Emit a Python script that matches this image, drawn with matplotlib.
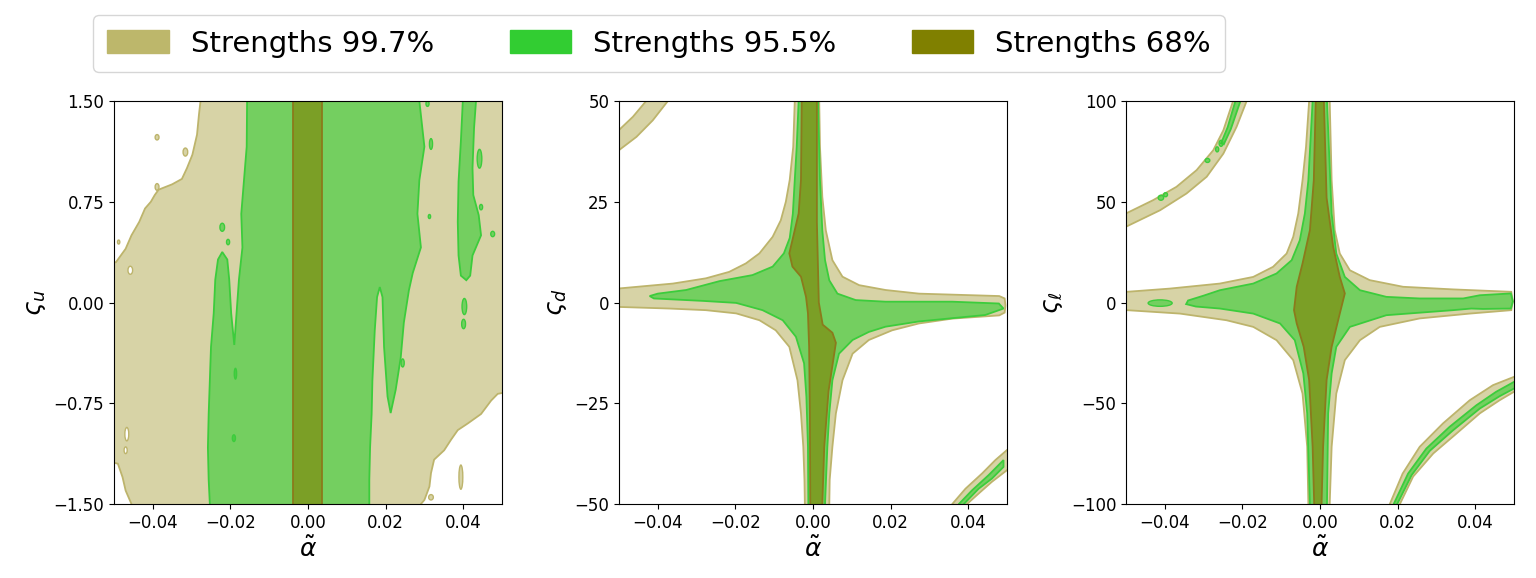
import numpy as np
import matplotlib
matplotlib.use("Agg")
import matplotlib.pyplot as plt
from matplotlib.patches import Polygon, Ellipse, Patch
from matplotlib.colors import to_rgba

# ---------------- data ----------------
levels = ["Strengths 99.7%", "Strengths 95.5%", "Strengths 68%"]
level_colors = ["#bdb76b", "#32cd32", "#808000"]

x_limits = (-0.05, 0.05)
y_limits = [(-1.5, 1.5), (-50, 50), (-100, 100)]
x_ticks = [-0.04, -0.02, 0.0, 0.02, 0.04]
y_ticks = [[-1.5, -0.75, 0.0, 0.75, 1.5], [-50, -25, 0, 25, 50], [-100, -50, 0, 50, 100]]
x_label = r"$\tilde{\alpha}$"
y_labels = [r"$\varsigma_u$", r"$\varsigma_d$", r"$\varsigma_\ell$"]

# Panel 1 (alpha~ vs zeta_u): region outlines (x, y)
p1_tan = [(-0.0277, 1.6), (-0.0277, 1.5), (-0.0281, 1.4), (-0.0286, 1.25), (-0.0298, 1.1),
          (-0.0312, 1.0), (-0.0325, 0.92), (-0.0350, 0.88), (-0.0385, 0.84), (-0.0395, 0.80),
          (-0.0405, 0.75), (-0.0420, 0.70), (-0.0435, 0.60), (-0.0455, 0.50), (-0.0470, 0.40),
          (-0.0495, 0.30), (-0.0560, 0.28), (-0.0560, -1.15), (-0.0490, -1.20), (-0.0478, -1.30),
          (-0.0470, -1.40), (-0.0455, -1.50), (-0.0455, -1.60), (0.0291, -1.60), (0.0291, -1.50),
          (0.0300, -1.47), (0.0313, -1.37), (0.0317, -1.27), (0.0325, -1.17), (0.0351, -1.10),
          (0.0369, -1.02), (0.0386, -0.95), (0.0412, -0.90), (0.0446, -0.83), (0.0472, -0.73),
          (0.0489, -0.68), (0.0560, -0.64), (0.0560, 1.6)]
p1_green = [(-0.0157, 1.6), (-0.0157, 1.5), (-0.0158, 1.16), (-0.0165, 0.91), (-0.0172, 0.66),
            (-0.0169, 0.41), (-0.0178, 0.17), (-0.0190, -0.316), (-0.0198, -0.08), (-0.0203, 0.17),
            (-0.0208, 0.32), (-0.0221, 0.376), (-0.0232, 0.32), (-0.0239, 0.17), (-0.0243, -0.08),
            (-0.0250, -0.33), (-0.0253, -0.58), (-0.0256, -0.83), (-0.0258, -1.08), (-0.0256, -1.32),
            (-0.0253, -1.5), (-0.0253, -1.6), (0.0158, -1.6), (0.0158, -1.5), (0.0158, -1.32),
            (0.0160, -1.08), (0.0164, -0.83), (0.0166, -0.58), (0.0172, -0.21), (0.0178, 0.04),
            (0.0185, 0.115), (0.0192, 0.04), (0.0196, -0.33), (0.0205, -0.70), (0.0213, -0.823),
            (0.0226, -0.65), (0.0239, -0.41), (0.0247, -0.15), (0.0260, 0.09), (0.0270, 0.22),
            (0.0291, 0.41), (0.0282, 0.66), (0.0287, 0.91), (0.0300, 1.16), (0.0287, 1.5),
            (0.0287, 1.6)]
p1_green_strip = [(0.0399, 1.6), (0.0399, 1.5), (0.0394, 1.2), (0.0388, 0.9), (0.0386, 0.6),
                  (0.0388, 0.35), (0.0394, 0.2), (0.0408, 0.166), (0.0418, 0.2), (0.0424, 0.35),
                  (0.0446, 0.5), (0.0440, 0.65), (0.0426, 0.8), (0.0424, 1.0), (0.0428, 1.3),
                  (0.0433, 1.5), (0.0433, 1.6)]
p1_olive = [(-0.0038, 1.6), (-0.0038, -1.6), (0.0037, -1.6), (0.0037, 1.6)]
# small islands: (x, y, width, height)
p1_green_islands = [(-0.0221, 0.56, 0.0012, 0.06), (-0.0206, 0.45, 0.0008, 0.04),
                    (0.0403, -0.03, 0.0012, 0.12), (0.0401, -0.16, 0.0010, 0.07),
                    (0.0442, 1.07, 0.0012, 0.14), (0.0446, 0.71, 0.0008, 0.04),
                    (0.0476, 0.51, 0.0010, 0.04), (0.0313, 0.64, 0.0006, 0.03),
                    (0.0308, 1.48, 0.0008, 0.04), (0.0317, 1.18, 0.0008, 0.08),
                    (0.0244, -0.45, 0.0008, 0.06), (-0.0187, -0.53, 0.0006, 0.08),
                    (-0.0191, -1.01, 0.0008, 0.05)]
p1_tan_islands = [(-0.0389, 1.23, 0.0010, 0.04), (-0.0316, 1.12, 0.0012, 0.06),
                  (-0.0389, 0.86, 0.0010, 0.05), (0.0394, -1.30, 0.0010, 0.18),
                  (0.0317, -1.45, 0.0012, 0.04), (-0.0488, 0.45, 0.0006, 0.03)]
p1_holes = [(-0.0458, 0.24, 0.0012, 0.06), (-0.0467, -0.98, 0.0010, 0.10),
            (-0.0470, -1.10, 0.0008, 0.05)]

# Panel 2 (alpha~ vs zeta_d)
p2_tan = [(-0.0047, 55), (-0.0047, 50), (-0.0051, 38.6), (-0.0060, 30.4), (-0.0070, 25),
          (-0.0083, 20.4), (-0.0104, 16.3), (-0.0138, 12.2), (-0.0173, 9.7), (-0.0216, 7.6),
          (-0.0276, 6.0), (-0.0361, 4.7), (-0.0498, 3.5), (-0.056, 3.3), (-0.056, -1.2),
          (-0.0500, -1.1), (-0.0370, -1.5), (-0.0276, -1.9), (-0.0198, -2.7), (-0.0138, -4.4),
          (-0.0096, -6.9), (-0.0061, -11), (-0.0040, -19.3), (-0.0031, -27.5), (-0.0025, -35.8),
          (-0.0022, -44), (-0.0021, -50), (-0.0021, -55), (0.0042, -55), (0.0042, -50),
          (0.0043, -44), (0.0050, -35.8), (0.0059, -27.5), (0.0076, -19.3), (0.0102, -12.7),
          (0.0144, -9.3), (0.0204, -6.9), (0.0273, -5.2), (0.0359, -4.0), (0.0480, -3.2),
          (0.0494, -2.5), (0.0496, -0.7), (0.0494, 1.0), (0.0480, 1.6), (0.0273, 2.2),
          (0.0187, 3.1), (0.0119, 4.3), (0.0076, 6.4), (0.0050, 10.5), (0.0033, 17.9),
          (0.0024, 26.2), (0.0018, 38.6), (0.0016, 50), (0.0016, 55)]
p2_green = [(-0.0037, 55), (-0.0037, 50), (-0.0042, 38.6), (-0.0047, 30.4), (-0.0052, 22),
            (-0.0060, 16), (-0.0075, 12.2), (-0.0104, 8.9), (-0.0156, 6.8), (-0.0241, 5.3),
            (-0.0327, 3.1), (-0.0400, 2.2), (-0.0421, 1.6), (-0.0410, 1.0), (-0.0284, 0.4),
            (-0.0198, -0.1), (-0.0130, -1.9), (-0.0078, -4.4), (-0.0044, -8.5), (-0.0023, -15.1),
            (-0.0017, -23.4), (-0.0013, -35.8), (-0.0012, -50), (-0.0012, -55), (0.0031, -55),
            (0.0031, -50), (0.0037, -35.8), (0.0042, -27.5), (0.0050, -19.3), (0.0067, -12.7),
            (0.0102, -9.3), (0.0144, -7.3), (0.0187, -6.0), (0.0273, -4.7), (0.0444, -3.1),
            (0.0491, -1.5), (0.0479, -0.25), (0.0359, 0.2), (0.0187, 0.2), (0.0110, 0.6),
            (0.0063, 2.2), (0.0042, 5.5), (0.0031, 10.5), (0.0024, 17.9), (0.0018, 30.4),
            (0.0013, 50), (0.0013, 55)]
p2_olive = [(-0.0029, 55), (-0.0029, 50), (-0.0031, 30.4), (-0.0037, 22.1), (-0.0061, 12.2),
            (-0.0053, 8.9), (-0.0031, 6.4), (-0.0018, 1.4), (-0.0013, -2.7), (-0.0010, -11),
            (-0.0008, -27.5), (-0.0007, -50), (-0.0007, -55), (0.0024, -55), (0.0024, -50),
            (0.0029, -35.8), (0.0040, -22), (0.0059, -10), (0.0050, -7.5), (0.0025, -5.5),
            (0.0015, 0), (0.0010, 20), (0.0010, 50), (0.0010, 55)]
p2_arc_tl_outer = [(-0.056, 42.0), (-0.0500, 42.8), (-0.0464, 46.1), (-0.0430, 50), (-0.0425, 56)]
p2_arc_tl_inner = [(-0.056, 36.5), (-0.0500, 37.8), (-0.0455, 41.1), (-0.0413, 45.2),
                   (-0.0374, 50), (-0.0369, 56)]
p2_arc_br_outer = [(0.0355, -56), (0.0359, -50), (0.0393, -46.2), (0.0436, -42.4),
                   (0.0470, -39.1), (0.0500, -36.6), (0.056, -32)]
p2_arc_br_inner = [(0.0402, -56), (0.0397, -50), (0.0427, -47.4), (0.0461, -44.5),
                   (0.0500, -41.6), (0.056, -37)]
p2_arcg_br_outer = [(0.0372, -56), (0.0376, -50), (0.0410, -46.6), (0.0453, -42.8), (0.0491, -39.1)]
p2_arcg_br_inner = [(0.0385, -56), (0.0389, -50), (0.0427, -46.2), (0.0461, -43.7), (0.0491, -40.8)]

# Panel 3 (alpha~ vs zeta_l)
p3_tan = [(-0.0028, 110), (-0.0028, 100), (-0.0036, 77.3), (-0.0045, 60.7), (-0.0056, 44.2),
          (-0.0069, 32.6), (-0.0086, 24.3), (-0.0121, 17.7), (-0.0172, 12.7), (-0.0258, 9.4),
          (-0.0387, 6.9), (-0.0498, 5.3), (-0.056, 5.2), (-0.056, -3.9), (-0.0498, -3.8),
          (-0.0361, -5.5), (-0.0241, -8.8), (-0.0172, -12.1), (-0.0112, -18.7), (-0.0069, -28.6),
          (-0.0045, -45.2), (-0.0033, -71.6), (-0.0030, -100), (-0.0030, -110), (0.0025, -110),
          (0.0025, -100), (0.0030, -71.6), (0.0042, -45.2), (0.0064, -28.6), (0.0103, -18.7),
          (0.0154, -12.1), (0.0257, -7.9), (0.0386, -5.5), (0.0493, -3.8), (0.0497, 0.7),
          (0.0493, 5.3), (0.0343, 6.5), (0.0214, 7.8), (0.0128, 11.1), (0.0077, 16),
          (0.0051, 24.3), (0.0038, 35.9), (0.0030, 60.7), (0.0025, 100), (0.0025, 110)]
p3_green = [(-0.0019, 110), (-0.0019, 100), (-0.0030, 60.7), (-0.0039, 44.2), (-0.0052, 30.9),
            (-0.0073, 21), (-0.0112, 14.4), (-0.0172, 9.4), (-0.0258, 6.1), (-0.0300, 3.4),
            (-0.0340, 1.0), (-0.0345, -0.8), (-0.0320, -2.0), (-0.0258, -3.0), (-0.0172, -5.5),
            (-0.0103, -10.4), (-0.0065, -18.7), (-0.0043, -35.2), (-0.0033, -55), (-0.0026, -100),
            (-0.0026, -110), (0.0018, -110), (0.0018, -100), (0.0021, -55), (0.0030, -35.2),
            (0.0042, -22), (0.0077, -12.1), (0.0171, -6.3), (0.0343, -3.8), (0.0390, -3.0),
            (0.0420, -3.2), (0.0492, -3.0), (0.0497, 0.5), (0.0492, 4.5), (0.0412, 3.6),
            (0.0369, 2.0), (0.0257, 2.0), (0.0171, 2.8), (0.0103, 6.1), (0.0064, 12.7),
            (0.0042, 24.3), (0.0030, 44.2), (0.0018, 100), (0.0018, 110)]
p3_olive = [(-0.0011, 110), (-0.0011, 100), (-0.0016, 60.7), (-0.0026, 35.9), (-0.0045, 19.4),
            (-0.0060, 7.8), (-0.0067, -3.8), (-0.0060, -10.4), (-0.0042, -22), (-0.0028, -38.5),
            (-0.0019, -71.6), (-0.0015, -100), (-0.0015, -110), (0.0004, -110), (0.0004, -100),
            (0.0008, -71.6), (0.0017, -38.5), (0.0030, -22), (0.0051, -5.5), (0.0064, 4.5),
            (0.0051, 12.7), (0.0034, 27.6), (0.0017, 52), (0.0010, 100), (0.0010, 110)]
p3_arc_tl_outer = [(-0.056, 43.0), (-0.0500, 44.2), (-0.0430, 50.8), (-0.0370, 57.4),
                   (-0.0318, 65.7), (-0.0275, 75.6), (-0.0249, 85.5), (-0.0224, 100), (-0.0220, 110)]
p3_arc_tl_inner = [(-0.056, 32.0), (-0.0500, 37.6), (-0.0412, 45.8), (-0.0344, 54.1),
                   (-0.0292, 62.4), (-0.0249, 73.9), (-0.0215, 87.2), (-0.0189, 100), (-0.0185, 110)]
p3_arcg_tl = [(-0.0218, 110), (-0.0218, 100), (-0.0238, 87.0), (-0.0255, 79.0), (-0.0248, 78.5),
              (-0.0230, 86.0), (-0.0205, 100), (-0.0205, 110)]
p3_arc_br_outer = [(0.0176, -110), (0.0180, -100), (0.0213, -84.9), (0.0257, -71.6),
                   (0.0317, -60.0), (0.0386, -48.5), (0.0446, -41.0), (0.0500, -36.9), (0.056, -33)]
p3_arc_br_inner = [(0.0203, -110), (0.0206, -100), (0.0240, -86.4), (0.0292, -74.9),
                   (0.0352, -65.0), (0.0412, -55.0), (0.0463, -48.5), (0.0500, -44.3), (0.056, -41)]
p3_arcg_br_outer = [(0.0187, -110), (0.0190, -100), (0.0227, -84.9), (0.0274, -72.5),
                    (0.0334, -61.7), (0.0403, -51.0), (0.0454, -44.3), (0.0500, -39.4), (0.056, -36)]
p3_arcg_br_inner = [(0.0196, -110), (0.0199, -100), (0.0236, -85.7), (0.0283, -73.6),
                    (0.0343, -63.4), (0.0412, -52.6), (0.0463, -46.5), (0.0500, -42.7), (0.056, -40)]
p3_green_islands = [(-0.0412, -0.3, 0.0062, 3.2), (-0.0255, 79.0, 0.0010, 3.0),
                    (-0.0265, 76.0, 0.0008, 2.5), (-0.0290, 70.5, 0.0012, 2.0),
                    (-0.0410, 52.0, 0.0014, 2.5), (-0.0398, 53.5, 0.0010, 2.0)]

# ---------------- drawing ----------------
ALPHA = 0.6
TAN_EDGE = "#bdb46c"
GREEN_EDGE = "#3ccc3c"
OLIVE_EDGE = "#8b7a1c"
LW = 1.3


def poly(ax, pts, color, edge, z):
    ax.add_patch(Polygon(np.asarray(pts), closed=True, facecolor=to_rgba(color, ALPHA),
                         edgecolor=edge, lw=LW, zorder=z))


def band(ax, outer, inner, color, edge, z):
    pts = list(outer) + list(inner)[::-1]
    poly(ax, pts, color, edge, z)


def islands(ax, items, face, edge, z):
    for (cx, cy, w, h) in items:
        ax.add_patch(Ellipse((cx, cy), w, h, facecolor=face, edgecolor=edge, lw=1.0, zorder=z))


fig = plt.figure(figsize=(15.36, 5.78), dpi=100)
W, H = 1536, 578
ax_left_px = [114, 619, 1126]
axes = []
for i, lp in enumerate(ax_left_px):
    ax = fig.add_axes([lp / W, 1 - 504 / H, 388 / W, 403 / H])
    axes.append(ax)

tan, green, olive = level_colors

# panel 1
ax = axes[0]
poly(ax, p1_tan, tan, TAN_EDGE, 1)
islands(ax, p1_tan_islands, to_rgba(tan, ALPHA), TAN_EDGE, 1)
islands(ax, p1_holes, "white", TAN_EDGE, 1.5)
poly(ax, p1_green, green, GREEN_EDGE, 2)
poly(ax, p1_green_strip, green, GREEN_EDGE, 2)
islands(ax, p1_green_islands, to_rgba(green, ALPHA), GREEN_EDGE, 2)
poly(ax, p1_olive, olive, OLIVE_EDGE, 3)

# panel 2
ax = axes[1]
poly(ax, p2_tan, tan, TAN_EDGE, 1)
band(ax, p2_arc_tl_outer, p2_arc_tl_inner, tan, TAN_EDGE, 1)
band(ax, p2_arc_br_outer, p2_arc_br_inner, tan, TAN_EDGE, 1)
poly(ax, p2_green, green, GREEN_EDGE, 2)
band(ax, p2_arcg_br_outer, p2_arcg_br_inner, green, GREEN_EDGE, 2)
poly(ax, p2_olive, olive, OLIVE_EDGE, 3)

# panel 3
ax = axes[2]
poly(ax, p3_tan, tan, TAN_EDGE, 1)
band(ax, p3_arc_tl_outer, p3_arc_tl_inner, tan, TAN_EDGE, 1)
band(ax, p3_arc_br_outer, p3_arc_br_inner, tan, TAN_EDGE, 1)
poly(ax, p3_green, green, GREEN_EDGE, 2)
poly(ax, p3_arcg_tl, green, GREEN_EDGE, 2)
band(ax, p3_arcg_br_outer, p3_arcg_br_inner, green, GREEN_EDGE, 2)
islands(ax, p3_green_islands, to_rgba(green, ALPHA), GREEN_EDGE, 2)
poly(ax, p3_olive, olive, OLIVE_EDGE, 3)

for i, ax in enumerate(axes):
    ax.set_xlim(*x_limits)
    ax.set_ylim(*y_limits[i])
    ax.set_xticks(x_ticks)
    ax.set_yticks(y_ticks[i])
    ax.tick_params(labelsize=12)
    ax.set_xlabel(x_label, fontsize=18)
    ax.set_ylabel(y_labels[i], fontsize=18)
    for s in ax.spines.values():
        s.set_zorder(5)

handles = [Patch(facecolor=c, edgecolor=c) for c in level_colors]
fig.legend(handles, levels, loc="upper center", bbox_to_anchor=(659 / W, 1 - 0.5 / H),
           ncol=3, fontsize=21, handlelength=2.1, handleheight=0.8, handletextpad=0.75,
           columnspacing=2.6, borderpad=0.5, frameon=True)

fig.savefig("out.png", dpi=100)
